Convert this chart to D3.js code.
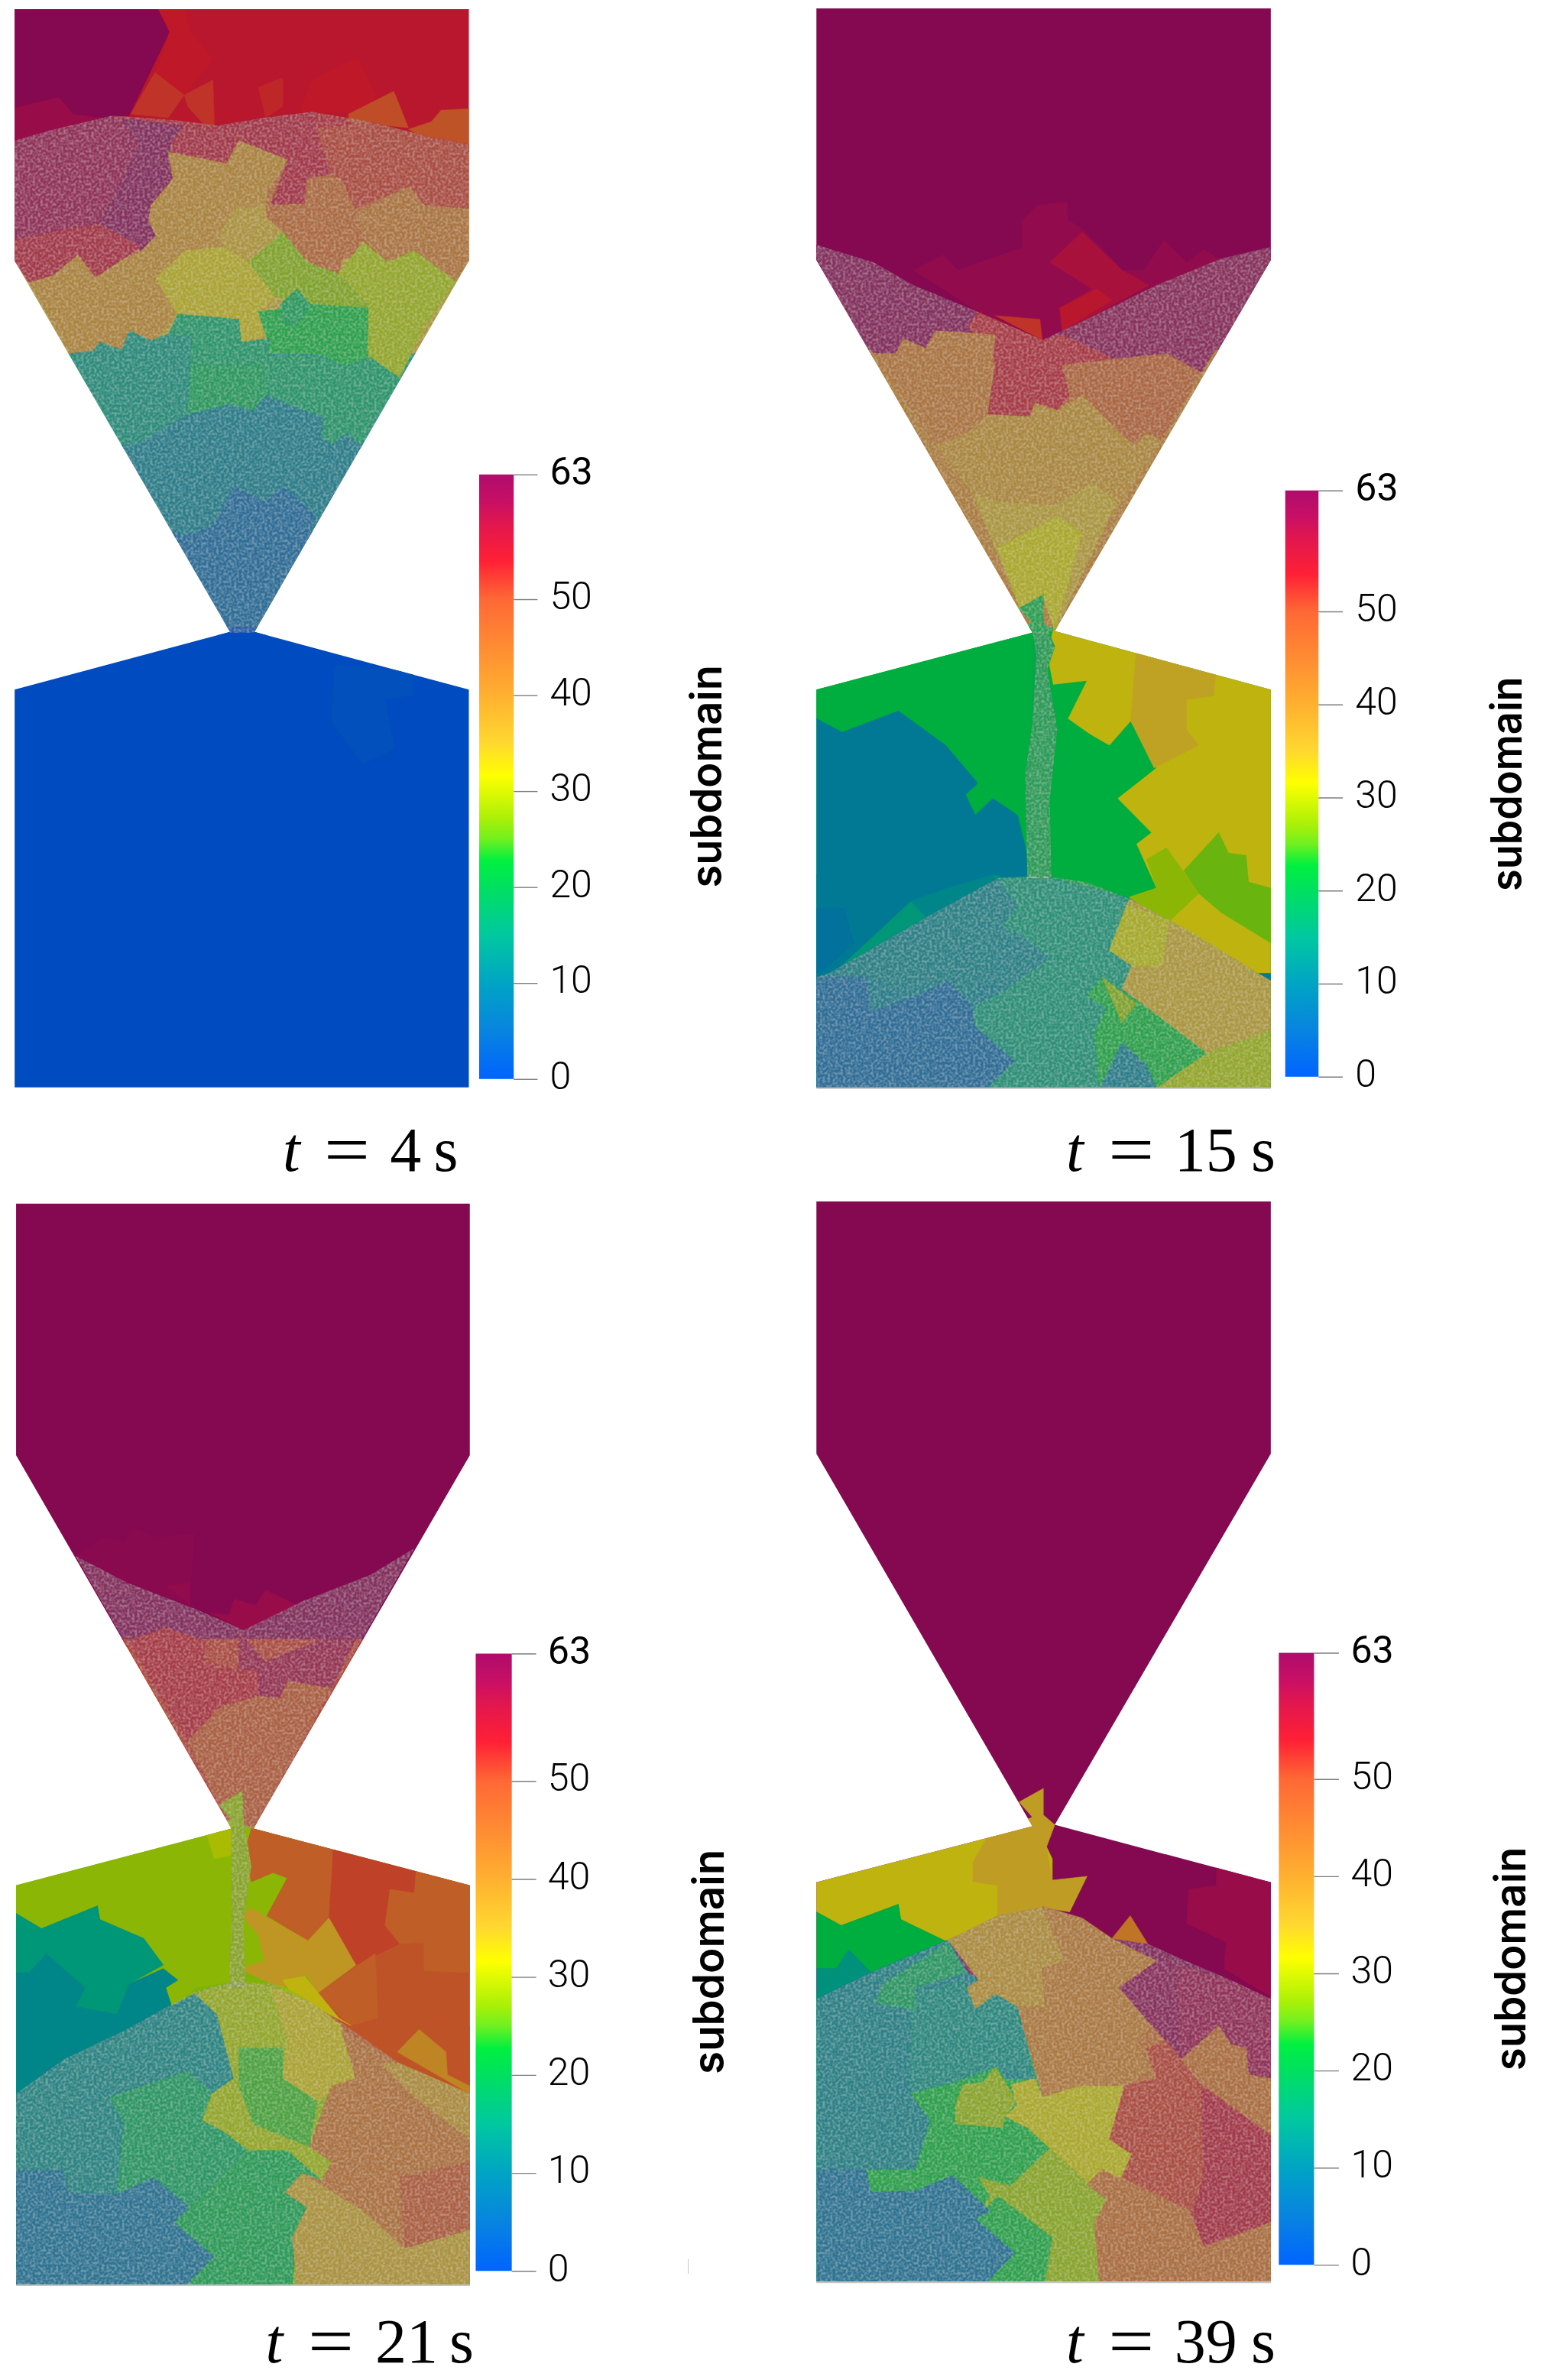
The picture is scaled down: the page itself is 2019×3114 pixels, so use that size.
<!DOCTYPE html>
<html><head><meta charset="utf-8">
<script src="https://cdn.jsdelivr.net/npm/d3@7"></script>
<style>html,body{margin:0;padding:0;background:#fff}svg{display:block}</style>
</head><body><svg id="c" width="2019" height="3114"></svg>
<script>
// ---- colour bar ----
const cmapValues = [0,5,10,15,20,22.7,25,27,31.6,35,40,50,54,58,60.2,62,63];
const cmapColors = ['#0064ff','#0884e0','#00a4c4','#00c8a0','#00e060','#00f040','#70f020','#a8f008','#ffff00','#ffd830','#ffb030','#ff6835','#ff2035','#e01650','#c80f65','#b80d6a','#b00c6c'];
const barTicks = [0,10,20,30,40,50,63];
const shade = 0.75;

// ---- outlines (crop units) ----
const outlineA = [30,12,962,12,962,343,522,831,962,907,962,1430,30,1430,30,907,472,831,30,343];
const outlineB = [105,11,1020,11,1020,342,585,830,1020,907,1020,1430,105,1430,105,907,540,832,105,342];
const outlineC = [33,15,964,15,964,347,520,840,964,915,964,1442,33,1442,33,915,475,840,33,347];
const outlineD = [105,12,1020,12,1020,345,585,835,1020,911,1020,1438,105,1438,105,911,540,837,105,345];

// ---- subdomain patches: [subdomain id, polygon in crop units], painted in order ----
const patchesA = [
 [55,[30,12,962,12,962,200,30,200]],
 [47,[30,190,962,190,962,345,30,345]],
 [35,[30,340,962,340,962,470,30,470]],
 [15,[30,465,962,465,962,590,30,590]],
 [10,[30,585,962,585,962,710,30,710]],
 [5,[30,700,962,700,962,835,30,835]],
 [63,[30,12,325,12,348,42,265,152,205,155,150,150,120,128,30,142]],
 [60,[30,142,120,128,150,150,205,155,240,170,30,190]],
 [54,[325,12,380,12,390,40,437,78,378,125,318,95,348,42]],
 [52,[318,95,378,125,345,155,268,150]],
 [52,[378,125,437,105,440,165,420,165,385,140]],
 [53,[530,115,580,102,580,140,545,155]],
 [54,[615,145,640,105,735,75,770,125,770,145,620,150]],
 [50,[715,150,808,120,838,168,715,160]],
 [49,[838,170,885,160,905,145,962,143,962,195,880,185]],
 [60,[30,185,230,152,285,190,205,295,150,300,30,315]],
 [56,[375,165,445,165,540,155,640,147,655,175,680,230,630,235,625,268,555,270,590,210,490,185,465,215,345,200]],
 [52,[650,170,760,160,880,180,962,190,962,275,870,270,840,245,730,275,700,235,680,230]],
 [63,[240,155,375,165,350,190,355,235,310,270,305,290,320,310,290,330,205,295,285,190]],
 [56,[30,315,150,300,205,295,290,325,195,365,160,335,110,362,60,372,30,343]],
 [47,[630,235,680,230,730,280,695,360,640,350,610,320,545,285,555,270,625,268]],
 [44,[730,280,840,245,870,270,962,275,962,343,935,370,850,330,795,345,750,315]],
 [40,[345,200,465,215,490,185,590,210,550,250,545,270,480,275,450,310,460,325,330,330,320,310,305,290,310,270,355,235]],
 [36,[450,310,480,275,545,270,545,285,580,305,510,345,460,325]],
 [40,[60,372,110,362,160,335,195,365,290,330,320,310,330,330,460,325,330,365,362,410,345,430,310,448,265,435,250,460,205,450,190,462,143,465]],
 [33,[320,365,380,330,460,325,510,345,565,390,530,410,545,440,495,450,490,420,362,413]],
 [27,[510,345,580,305,630,345,695,360,755,400,755,440,640,400,565,390]],
 [29,[695,360,745,318,795,345,850,330,935,370,870,430,820,497,755,470,755,400]],
 [22,[530,410,640,400,755,405,755,470,710,480,650,465,555,465,545,440]],
 [19,[575,400,610,380,640,403,605,430,580,425]],
 [14,[143,465,190,462,205,450,250,460,265,435,310,448,340,440,395,440,385,545,280,585,255,585]],
 [17,[345,440,365,413,490,420,495,450,555,445,550,470,650,470,710,480,760,470,820,497,740,585,710,570,680,585,660,575,665,550,545,520,520,540,470,548,385,545,395,440]],
 [19,[395,480,540,480,545,520,520,540,470,548,385,545]],
 [10,[255,585,280,585,385,545,470,532,520,540,545,520,665,550,660,575,680,585,710,570,740,585,650,680,580,650,545,660,480,640,440,690,380,705,370,705]],
 [5,[380,705,440,690,480,640,545,660,580,640,650,680,525,832,470,832]],
 [0,[30,825,962,825,962,1430,30,1430]],
 [1,[685,875,800,880,848,885,848,915,790,920,810,985,745,1005,680,950]]
];
const patchesB = [
 [63,[105,11,1020,11,1020,470,105,470]],
 [42,[105,460,1020,460,1020,835,105,835]],
 [21,[105,825,1020,825,1020,1430,105,1430]],
 [15,[105,1150,1020,1150,1020,1430,105,1430]],
 [61,[300,355,360,335,390,355,520,325,518,290,550,270,610,265,612,290,640,300,700,340,720,355,765,355,805,315,850,345,885,328,920,342,790,380,560,447,430,410]],
 [58,[575,345,640,305,720,355,775,375,650,420,600,435,595,405,660,380]],
 [55,[595,405,670,380,700,395,600,435]],
 [52,[465,415,555,420,560,447]],
 [63,[105,322,430,410,410,430,360,445,325,458,280,445,265,465,220,465,105,342]],
 [62,[790,375,1020,325,1020,342,880,490,810,465,720,478,600,440]],
 [55,[410,430,430,410,560,447,600,440,730,480,615,520,590,540,545,530,535,548,450,545,465,480]],
 [48,[600,480,810,465,880,490,800,580,770,570,745,585,725,575,640,520,590,540,615,520]],
 [44,[220,465,265,465,280,445,325,458,345,435,465,440,450,545,410,570,345,585]],
 [39,[345,585,410,570,450,545,535,548,545,530,590,540,640,520,725,575,745,585,770,570,800,580,700,680,660,635,590,665,470,660,420,650]],
 [35,[420,650,470,660,590,665,660,635,710,660,585,830,562,785,515,800]],
 [32,[470,720,590,680,640,700,585,830,562,785,515,800]],
 [21,[105,895,540,820,513,800,562,782,562,820,585,830,575,860,582,900,650,895,612,945,655,965,695,980,738,948,790,1010,712,1050,780,1095,750,1110,790,1168,735,1180,560,1150,545,1165,510,1072,460,1050,425,1072,405,1045,430,1030,365,980,270,935,157,963,105,945]],
 [33,[570,860,585,820,1020,895,1020,1290,810,1210,735,1180,790,1168,750,1110,780,1095,712,1050,790,1010,738,948,695,980,655,965,612,945,650,895,582,900]],
 [35,[750,850,910,875,905,915,850,920,850,960,875,980,785,1010,738,948]],
 [26,[845,1145,915,1095,935,1122,970,1125,975,1160,1020,1168,1020,1240,920,1200,875,1175]],
 [28,[770,1130,810,1115,875,1175,810,1215,735,1180,790,1168]],
 [9.5,[105,945,157,963,270,935,365,980,430,1030,405,1045,425,1072,460,1050,510,1072,545,1165,460,1150,295,1185,130,1285,105,1285]],
 [8,[105,1195,160,1195,180,1240,105,1285]],
 [12,[295,1185,360,1170,460,1150,500,1180,330,1210]],
 [10,[105,1280,1020,1280,1020,1430,105,1430]],
 [11,[130,1280,330,1205,470,1155,510,1190,480,1220,520,1230,575,1260,490,1300,430,1290,420,1325,370,1290,305,1310,205,1285,105,1285]],
 [5,[105,1285,205,1285,215,1330,305,1310,370,1290,420,1325,425,1350,505,1395,450,1430,105,1430]],
 [15,[470,1155,560,1152,735,1182,695,1250,740,1270,720,1300,650,1310,690,1325,665,1360,675,1430,450,1430,505,1395,425,1350,420,1325,490,1300,575,1260,520,1230,480,1220,510,1190]],
 [35,[735,1182,1020,1290,1020,1355,890,1385,800,1340,720,1300,740,1270,695,1250]],
 [31,[730,1190,815,1210,800,1270,745,1270,695,1250]],
 [29,[890,1385,1020,1355,1020,1430,790,1430]],
 [22,[650,1310,680,1285,760,1320,890,1385,790,1430,770,1400,720,1370,675,1430,665,1360,690,1325]],
 [27,[680,1285,750,1320,720,1345]],
 [20,[540,832,575,835,585,850,570,880,590,960,575,1050,575,1155,530,1155,525,1020,540,950]]
];
const patchesC = [
 [63,[33,15,964,15,964,600,33,600]],
 [52,[33,590,964,590,964,845,33,845]],
 [27,[33,835,964,835,964,1442,33,1442]],
 [28,[33,1150,964,1150,964,1442,33,1442]],
 [62,[155,480,210,455,255,462,275,443,320,455,400,450,390,545,260,515]],
 [61,[340,520,390,515,390,545]],
 [60,[430,555,470,558,480,537,525,545,545,525,610,545,500,578]],
 [55,[262,592,340,575,420,592,420,620,490,630,530,630,530,665,450,680,385,725]],
 [59,[490,580,545,620,660,590,730,590,680,655,590,645,575,668,530,670,530,630,490,630]],
 [50,[385,725,450,680,530,665,575,668,590,645,680,655,520,840,475,840]],
 [28,[33,900,475,828,450,810,497,790,500,835,520,840,503,870,515,910,560,898,590,905,548,955,500,950,530,980,543,1015,490,1025,500,1040,400,1050,355,1080,340,1050,365,1040,330,1020,295,985,205,960,200,942,85,972,33,952]],
 [30,[420,840,475,830,475,875,440,880]],
 [49,[520,830,964,905,964,1178,845,1140,800,1110,720,1100,650,1058,730,1020,675,958,632,988,548,955,590,905,560,898,516,910,503,870]],
 [49,[640,1050,964,1100,964,1210,700,1125]],
 [47,[520,833,680,860,685,950,675,958,632,988,548,955,590,905,560,898,516,910,503,870]],
 [51,[685,860,855,887,850,925,800,920,790,968,820,992,730,1020,675,958]],
 [47,[800,920,850,925,855,887,964,905,964,1030,870,1028,870,990,820,992,790,968]],
 [47,[650,1058,770,1005,775,1090,720,1100]],
 [37,[495,955,515,945,632,988,675,958,730,1020,650,1058,630,1035,580,1050,540,1040,490,1025,543,1015,530,980]],
 [33,[580,1040,625,1035,695,1090,720,1100,600,1060]],
 [40,[860,1105,915,1135,918,1165,964,1180,964,1190,815,1135]],
 [15,[33,952,85,972,200,942,205,960,295,985,335,1020,265,1045,240,1085,155,1075,175,1050,95,1005,60,1030,33,1030]],
 [12,[33,1030,60,1030,95,1005,175,1050,155,1075,240,1085,265,1045,335,1025,365,1040,340,1050,355,1080,260,1110,33,1190]],
 [7,[33,1290,130,1290,140,1320,240,1322,315,1300,390,1340,358,1360,440,1405,385,1442,33,1442]],
 [12,[33,1190,130,1145,260,1105,400,1058,445,1085,480,1170,435,1190,385,1160,225,1195,255,1230,240,1322,140,1320,130,1290,33,1290]],
 [18,[225,1195,385,1160,435,1190,415,1225,460,1240,510,1265,430,1315,390,1340,315,1300,240,1322,255,1230]],
 [29,[400,1058,500,1042,580,1048,640,1070,700,1100,730,1170,650,1200,635,1260,680,1280,660,1305,590,1265,510,1265,460,1240,415,1225,435,1190,480,1170,445,1085]],
 [33,[555,1050,640,1070,700,1100,730,1170,650,1200,580,1170,590,1120]],
 [24,[490,1130,580,1130,580,1170,650,1200,635,1260,520,1230,490,1180]],
 [20,[510,1265,590,1265,660,1305,585,1320,630,1340,610,1370,600,1442,385,1442,440,1405,358,1360,390,1340,430,1315]],
 [45,[700,1105,820,1150,964,1190,964,1442,610,1442,600,1380,630,1340,585,1320,620,1295,660,1305,680,1280,635,1260,680,1180,730,1170]],
 [38,[780,1150,820,1150,964,1190,964,1250,860,1200]],
 [50,[820,1300,964,1280,964,1370,830,1395]],
 [36,[585,1320,620,1295,745,1345,830,1395,964,1370,964,1442,610,1442,600,1380,630,1340]],
 [28,[475,840,503,840,515,890,500,960,503,1050,470,1050,475,950]]
];
const patchesD = [
 [63,[105,12,1020,12,1020,1100,105,1100]],
 [22,[105,1060,800,1060,800,1438,105,1438]],
 [46,[600,1090,1020,1090,1020,1438,600,1438]],
 [33,[105,900,450,850,540,825,580,880,580,945,370,990,275,960,270,940,155,968,105,950]],
 [36,[420,885,450,850,540,825,513,805,562,787,562,822,585,835,568,865,580,908,650,903,615,950,565,945,470,960,470,915,420,910]],
 [60,[910,880,1020,895,1020,1062,925,1025,930,990,850,965,855,920,910,915]],
 [43,[700,985,737,955,772,992]],
 [21,[105,950,155,968,270,940,275,960,370,990,215,1030,170,1000,145,1025,105,1025]],
 [14,[105,1025,145,1025,170,1000,215,1030,105,1065]],
 [11,[105,1065,215,1030,370,987,410,1030,432,1040,408,1050,425,1078,465,1058,510,1075,545,1170,490,1170,295,1190,335,1225,305,1290,105,1290]],
 [13,[295,1060,400,1040,425,1078,465,1058,510,1075,545,1170,470,1155,385,1175,295,1190]],
 [18,[240,1045,370,990,405,1030,305,1050,305,1080,225,1070]],
 [38,[370,987,470,955,565,943,605,1015,560,1025,565,1075,510,1075,465,1058,425,1078,408,1050,432,1040]],
 [43,[560,943,640,958,700,985,790,1015,715,1050,780,1100,750,1120,790,1170,725,1180,635,1180,560,1195,510,1075,565,1075,560,1025,605,1015]],
 [22,[295,1190,385,1175,470,1155,510,1200,485,1215,530,1235,575,1262,495,1312,430,1300,380,1298,315,1318,305,1290,335,1225]],
 [28,[385,1205,400,1178,440,1175,465,1155,510,1200,485,1220,480,1235,385,1230]],
 [32,[497,1178,545,1170,560,1195,635,1180,725,1180,695,1250,740,1270,720,1300,655,1310,575,1262,530,1235,485,1220,510,1205]],
 [28,[425,1355,455,1325,430,1300,495,1312,575,1262,655,1310,690,1330,665,1360,675,1438,450,1438,505,1400]],
 [22,[425,1355,470,1325,580,1380,565,1438,450,1438,505,1400]],
 [7,[105,1290,205,1290,215,1320,305,1318,380,1298,455,1345,425,1355,505,1400,450,1438,105,1438]],
 [62,[790,1015,940,1040,1020,1065,1020,1170,975,1165,970,1130,940,1125,915,1100,840,1145,780,1100,715,1050]],
 [60,[830,1020,940,1040,1020,1065,1020,1170,975,1165,970,1130,940,1125,915,1100,840,1145]],
 [46,[725,1180,790,1170,750,1120,780,1100,840,1145,915,1100,940,1125,970,1130,975,1165,1020,1170,1020,1245,870,1175,820,1200,775,1160]],
 [52,[770,1130,810,1120,845,1150,875,1175,1020,1245,1020,1360,885,1392,860,1345,720,1300,740,1270,695,1250,725,1180,790,1170]],
 [56,[880,1180,1020,1245,1020,1360,885,1392,860,1350,885,1300]],
 [46,[650,1310,680,1290,860,1350,885,1392,1020,1360,1020,1438,675,1438,665,1360,690,1330]]
];

// ---- granular (stippled) zones, crop units ----
const grainsA = [[30,185,100,172,230,152,360,158,445,165,540,155,640,147,760,160,880,180,962,190,962,343,522,832,472,832,30,343]];
const grainsB = [[105,322,220,345,300,375,430,410,560,447,650,420,790,375,920,340,1020,325,1020,342,585,830,540,832,105,342],
 [540,832,572,830,585,850,570,880,590,960,575,1050,578,1155,530,1155,525,1020,540,950,548,860],
 [105,1285,130,1280,330,1205,470,1155,560,1152,650,1160,735,1182,860,1225,1020,1290,1020,1430,105,1430]];
const grainsC = [[155,480,260,515,400,550,500,578,620,540,760,505,850,470,520,840,475,840],
 [475,840,503,840,515,890,500,960,503,1050,470,1050,475,950],
 [33,1190,130,1145,260,1105,400,1055,480,1042,560,1045,640,1070,720,1105,820,1150,964,1190,964,1442,33,1442]];
const grainsD = [[105,1065,215,1030,370,987,470,955,565,943,640,958,700,985,772,992,850,1015,940,1040,1020,1065,1020,1438,105,1438]];

// ---- panel texts ----
const timeValues = ['4','15','21','39'];
const axisTitle = 'subdomain';

const cropsX = [0,1000,0,1000], cropsY = [0,0,1560,1560];
const cropsW = [1000,1019,1000,1019], cropsH = [1560,1560,1554,1554];
const panels = [
 {outline:outlineA,patches:patchesA,grains:grainsA,bar:[983,1054,1419,624],tick:49,lab:[580,665,800,890,1540],title:[1480,1021,293],floor:null},
 {outline:outlineB,patches:patchesB,grains:grainsB,bar:[1049,1116,1416,645],tick:49,lab:[608,693,826,980,1540],title:[1525,1031,282],floor:[105,1020,1431]},
 {outline:outlineC,patches:patchesC,grains:grainsC,bar:[976,1050,1424,609],tick:50,lab:[545,632,770,922,1545],title:[1485,1016,297],floor:[33,964,1443],mark:[1412,1408,1428]},
 {outline:outlineD,patches:patchesD,grains:grainsD,bar:[1036,1107,1416,608],tick:50,lab:[608,693,826,980,1545],title:[1532,1012,295],floor:[105,1020,1439]}
];

const svg = d3.select('#c');
const defs = svg.append('defs');
const cmap = d3.scaleLinear().domain(cmapValues).range(cmapColors);
const mapColor = v => { const c = d3.rgb(cmap(v)); return d3.rgb(c.r*shade,c.g*shade,c.b*shade).formatHex(); };

const grad = defs.append('linearGradient').attr('id','bar').attr('x1',0).attr('x2',0).attr('y1',1).attr('y2',0);
grad.selectAll('stop').data(cmapValues).join('stop')
  .attr('offset',d=>d/63).attr('stop-color',d=>cmap(d));

const f = defs.append('filter').attr('id','stipple').attr('x',0).attr('y',0).attr('width','100%').attr('height','100%');
f.append('feTurbulence').attr('type','fractalNoise').attr('baseFrequency',0.3).attr('numOctaves',1).attr('seed',4).attr('result','n');
f.append('feColorMatrix').attr('in','n').attr('type','matrix')
  .attr('values','0 0 0 0 0.72  0 0 0 0 0.70  0 0 0 0 0.66  3.2 0 0 0 -1.25').attr('result','d');
f.append('feComposite').attr('in','d').attr('in2','SourceGraphic').attr('operator','in');

panels.forEach((p,i)=>{
  const x = d3.scaleLinear().domain([0,1568]).range([cropsX[i],cropsX[i]+cropsW[i]]);
  const y = d3.scaleLinear().domain([0,1568]).range([cropsY[i],cropsY[i]+cropsH[i]]);
  const line = d3.line().x(d=>x(d[0])).y(d=>y(d[1])).curve(d3.curveLinearClosed);
  const pts = a => d3.range(0,a.length,2).map(k=>[a[k],a[k+1]]);
  const g = svg.append('g').attr('class','panel');

  defs.append('clipPath').attr('id','clip'+i).append('path').attr('d',line(pts(p.outline)));
  const body = g.append('g').attr('clip-path',`url(#clip${i})`);

  body.append('g').selectAll('path').data(p.patches).join('path')
    .attr('d',d=>line(pts(d[1])))
    .attr('fill',d=>mapColor(d[0]))
    .attr('stroke',d=>mapColor(d[0])).attr('stroke-width',0.6);

  const gr = body.append('g');
  gr.selectAll('path.veil').data(p.grains).join('path').attr('class','veil')
    .attr('d',d=>line(pts(d))).attr('fill','#84847c').attr('opacity',0.34);
  gr.selectAll('path.dots').data(p.grains).join('path').attr('class','dots')
    .attr('d',d=>line(pts(d))).attr('fill','#fff').attr('filter','url(#stipple)').attr('opacity',0.36);

  if (p.floor) g.append('line').attr('x1',x(p.floor[0])).attr('x2',x(p.floor[1]))
    .attr('y1',y(p.floor[2])).attr('y2',y(p.floor[2])).attr('stroke','#c4c4c4').attr('stroke-width',2);
  if (p.mark) g.append('line').attr('x1',x(p.mark[0])).attr('x2',x(p.mark[0]))
    .attr('y1',y(p.mark[1])).attr('y2',y(p.mark[2])).attr('stroke','#c8c8c8').attr('stroke-width',1);

  // colour bar
  const v = d3.scaleLinear().domain([0,63]).range([y(p.bar[2]),y(p.bar[3])]);
  const bx0 = x(p.bar[0]), bx1 = x(p.bar[1]);
  g.append('rect').attr('x',bx0).attr('y',v(63)).attr('width',bx1-bx0).attr('height',v(0)-v(63)).attr('fill','url(#bar)');
  const axis = d3.axisRight(v).tickValues(barTicks).tickSize(x(p.bar[1]+p.tick)-bx1).tickPadding(x(p.bar[1]+74)-x(p.bar[1]+p.tick));
  const ag = g.append('g').attr('transform',`translate(${bx1},0)`).call(axis);
  ag.select('.domain').remove();
  ag.selectAll('.tick line').attr('stroke','#7d7d7d').attr('stroke-width',1.4);
  ag.selectAll('.tick text')
    .attr('font-family','Roboto, "Liberation Sans", sans-serif').attr('font-weight',300)
    .attr('font-size',50).attr('fill','#000').attr('text-anchor','start').attr('dy','0.255em');
  ag.selectAll('.tick text').filter(d=>d===63).attr('font-weight',400);

  // rotated title
  const tx = x(p.title[0]), ty = y(p.title[1]);
  g.append('text').attr('transform',`translate(${tx},${ty}) rotate(-90)`)
    .attr('text-anchor','middle').attr('font-family','Inter, "Liberation Sans", sans-serif')
    .attr('font-weight',600).attr('font-size',56).attr('fill','#000')
    .attr('textLength',y(p.title[2])-y(0)).attr('lengthAdjust','spacingAndGlyphs').text(axisTitle);

  // time label
  const base = y(p.lab[4]);
  const serif = '"Liberation Serif", "DejaVu Serif", serif';
  const t = g.append('g').attr('fill','#000').attr('font-family',serif).attr('font-size',82);
  t.append('text').attr('x',x(p.lab[0])).attr('y',base).attr('font-style','italic').text('t');
  t.append('text').attr('x',x(p.lab[1])).attr('y',base).attr('font-size',92).attr('dy',3)
    .attr('textLength',60).attr('lengthAdjust','spacingAndGlyphs').text('=');
  t.append('text').attr('x',x(p.lab[2])).attr('y',base).text(timeValues[i]);
  t.append('text').attr('x',x(p.lab[3])).attr('y',base).text('s');
});
</script></body></html>
